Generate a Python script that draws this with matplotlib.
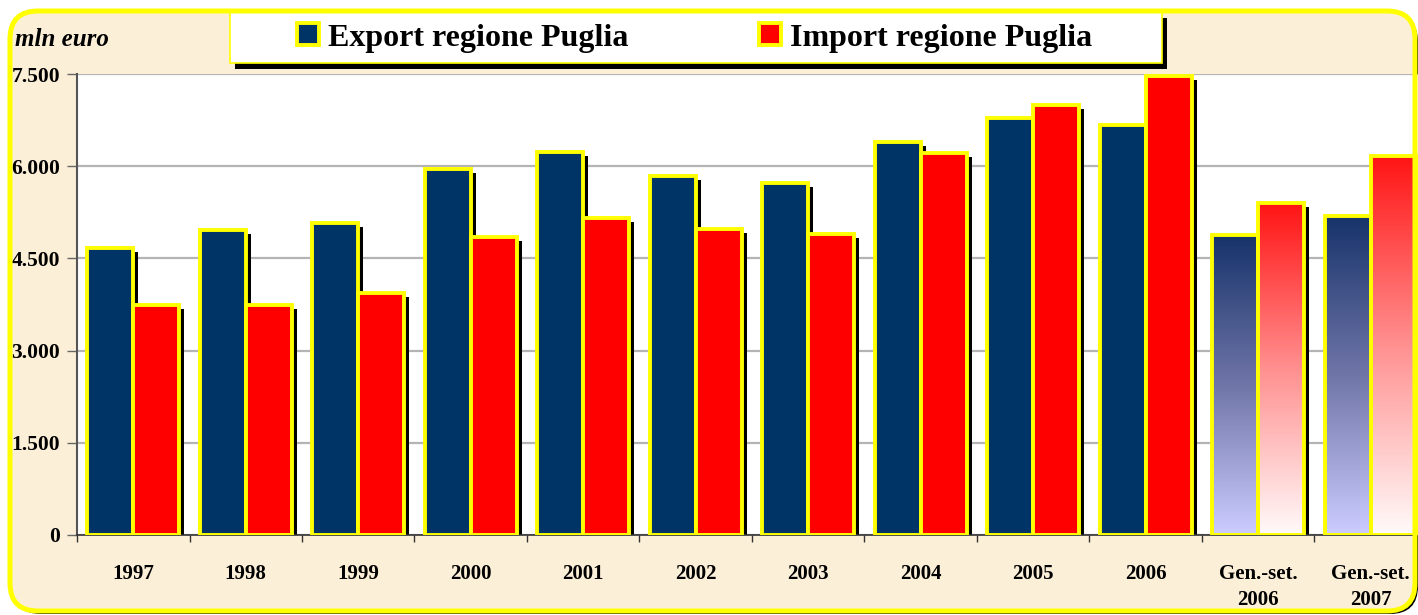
import numpy as np
import matplotlib
matplotlib.use('Agg')
import matplotlib.pyplot as plt
import matplotlib.transforms as mtransforms
from matplotlib.patches import FancyBboxPatch, Rectangle
from matplotlib.colors import LinearSegmentedColormap

plt.rcParams['font.family'] = ['Liberation Serif', 'DejaVu Serif']
plt.rcParams['font.weight'] = 'bold'

# dati (mln euro)
categories = ['1997', '1998', '1999', '2000', '2001', '2002', '2003',
              '2004', '2005', '2006', 'Gen.-set.\n2006', 'Gen.-set.\n2007']
export_vals = [4670, 4960, 5080, 5960, 6230, 5840, 5730, 6390, 6780, 6670, 4880, 5190]
import_vals = [3750, 3750, 3940, 4850, 5160, 4980, 4900, 6210, 6990, 7460, 5400, 6170]
yticks = [0, 1500, 3000, 4500, 6000, 7500]
ytick_labels = ['0', '1.500', '3.000', '4.500', '6.000', '7.500']
gradient_idx = [10, 11]   # periodi parziali con riempimento sfumato

W, H = 1418, 615
NAVY = '#003366'
RED = '#ff0000'
YEL = '#ffff00'
BG = '#fcefd8'

fig = plt.figure(figsize=(W / 100, H / 100), dpi=100)
fig.patch.set_facecolor('white')
pix = mtransforms.IdentityTransform()

# cornice arrotondata
fig.patches.append(FancyBboxPatch((13, 1), 1405, 600, boxstyle='round,pad=0,rounding_size=28',
                                  transform=pix, facecolor='black', edgecolor='none', zorder=-3))
fig.patches.append(FancyBboxPatch((10, 4), 1405, 600, boxstyle='round,pad=0,rounding_size=28',
                                  transform=pix, facecolor=BG, edgecolor='none', zorder=-2))
fig.patches.append(FancyBboxPatch((10, 4), 1405, 600, boxstyle='round,pad=0,rounding_size=28',
                                  transform=pix, facecolor='none', edgecolor=YEL, linewidth=3.6, zorder=6))

# riquadro legenda
fig.patches.append(Rectangle((235, H - 69), 932, 51, transform=pix,
                             facecolor='black', edgecolor='none', zorder=2.9))
fig.patches.append(Rectangle((230, H - 63), 932, 51, transform=pix,
                             facecolor='white', edgecolor=YEL, linewidth=1.2, zorder=3))

ax = fig.add_axes([77 / W, 80 / H, 1350 / W, 461 / H])
ax.set_facecolor('white')

x = np.arange(len(categories))
w = 0.41
shadow = ax.transData + mtransforms.ScaledTranslation(5 / 100, -4 / 100, fig.dpi_scale_trans)

for off, vals in ((-w / 2, export_vals), (w / 2, import_vals)):
    ax.bar(x + off, vals, w, color='black', transform=shadow, zorder=2)

b_exp = ax.bar(x - w / 2, export_vals, w, color=NAVY, edgecolor=YEL, linewidth=2.8,
               zorder=4, label='Export regione Puglia')
b_imp = ax.bar(x + w / 2, import_vals, w, color=RED, edgecolor=YEL, linewidth=2.8,
               zorder=4, label='Import regione Puglia')

cm_exp = LinearSegmentedColormap.from_list('exp', ['#ccccff', '#7075a8', '#16336a'])
cm_imp = LinearSegmentedColormap.from_list('imp', ['#fffafa', '#ff9090', '#ff1414'])
grad = np.linspace(0, 1, 256).reshape(-1, 1)
for i in gradient_idx:
    for bars, cmap in ((b_exp, cm_exp), (b_imp, cm_imp)):
        p = bars[i]
        p.set_facecolor('none')
        x0, y0 = p.get_x(), p.get_y()
        ax.imshow(grad, cmap=cmap, origin='lower', aspect='auto', zorder=3,
                  extent=(x0, x0 + p.get_width(), y0, y0 + p.get_height()))

ax.set_xlim(-0.5, len(categories) - 0.5)
ax.set_ylim(0, 7500)

ax.set_yticks(yticks)
ax.set_yticklabels(ytick_labels)
ax.yaxis.grid(True, color='#b4b4b4', linewidth=1.6, zorder=0)
ax.set_axisbelow(True)
ax.tick_params(axis='y', length=7, width=1, color='#666666', labelsize=15.5, pad=5)

ax.set_xticks(x)
ax.set_xticklabels(categories, linespacing=1.4)
ax.set_xticks(np.arange(len(categories) + 1) - 0.5, minor=True)
ax.tick_params(axis='x', which='major', length=0, labelsize=15, pad=21)
ax.tick_params(axis='x', which='minor', length=5, width=1, color='#333333')

for s in ('top', 'right'):
    ax.spines[s].set_visible(False)
ax.spines['left'].set_color('#555555')
ax.spines['left'].set_linewidth(1.5)
ax.spines['bottom'].set_color('#333333')
ax.spines['bottom'].set_linewidth(1.2)

fig.text(15 / W, 1 - 39 / H, 'mln euro', fontsize=18, fontstyle='italic',
         fontweight='bold', va='center', ha='left')

leg = fig.legend(handles=[b_exp, b_imp], loc='center left', ncol=2,
                 bbox_to_anchor=(297 / W, 1 - 38 / H), bbox_transform=fig.transFigure,
                 frameon=False, fontsize=23, borderaxespad=0, borderpad=0,
                 handlelength=0.68, handleheight=0.68, handletextpad=0.28,
                 columnspacing=4.1)
leg.set_zorder(7)

fig.savefig('out.png', dpi=100)
